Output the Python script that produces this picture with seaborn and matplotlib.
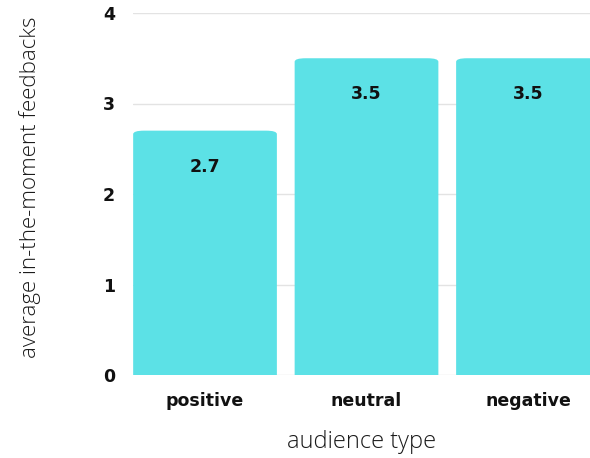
import matplotlib
matplotlib.use("Agg")
import matplotlib.pyplot as plt
import seaborn as sns
import pandas as pd
from matplotlib.patches import FancyBboxPatch

categories = ["positive", "neutral", "negative"]
values = [2.7, 3.5, 3.5]
value_labels = ["2.7", "3.5", "3.5"]
yticks = [0, 1, 2, 3, 4]

df = pd.DataFrame({"audience type": categories, "value": values})

sns.set_theme(style="white")
plt.rcParams['font.family'] = ['DejaVu Sans']

W, H = 590, 458
fig = plt.figure(figsize=(W / 100, H / 100), dpi=100)
ax = fig.add_axes([133 / W, 83 / H, 1 - 133 / W, (375 - 13) / H])

color = "#5CE1E6"
sns.barplot(data=df, x="audience type", y="value", color=color, width=0.89,
            saturation=1, ax=ax, errorbar=None)

ax.set_xlim(-0.446, 2.384)
ax.set_ylim(0, 4)

xpx = (W - 133) / (2.384 + 0.446)
ypx = (375 - 13) / 4.0
aspect = xpx / ypx
radius_px = 11
r = radius_px / xpx

patches = list(ax.patches)
for p in patches:
    x0, w, h = p.get_x(), p.get_width(), p.get_height()
    p.remove()
    fb = FancyBboxPatch((x0, -0.5), w, h + 0.5,
                        boxstyle=f"round,pad=0,rounding_size={r}",
                        mutation_aspect=1 / aspect,
                        facecolor=color, edgecolor="none", zorder=2,
                        clip_on=True)
    ax.add_patch(fb)

for i, (v, lab) in enumerate(zip(values, value_labels)):
    ax.annotate(lab, (i, v), xytext=(0, -26), textcoords="offset points",
                ha="center", va="center", fontsize=12.5, fontweight="bold",
                color="#111111")

ax.set_yticks(yticks)
ax.set_yticklabels([str(t) for t in yticks])
ax.yaxis.grid(True, color="#e3e3e3", linewidth=1)
ax.set_axisbelow(True)
for s in ax.spines.values():
    s.set_visible(False)
ax.tick_params(axis="both", length=0)
ax.tick_params(axis="y", pad=13)
ax.tick_params(axis="x", pad=12)
for t in ax.get_xticklabels() + ax.get_yticklabels():
    t.set_fontweight("bold")
    t.set_fontsize(12.5)
    t.set_color("#111111")

ax.set_xlabel("audience type", fontsize=17, family="Open Sans",
              fontweight="light", color="#1a1a1a")
ax.set_ylabel("average in-the-moment feedbacks", fontsize=16, family="Open Sans",
              fontweight="light", color="#1a1a1a")
ax.yaxis.set_label_coords(-(133 - 30) / (W - 133), (375 - 187) / (375 - 13))
ax.xaxis.set_label_coords((362 - 133) / (W - 133), -(442 - 375) / (375 - 13))
ax.xaxis.label.set_va("center")
ax.yaxis.label.set_va("center")

fig.savefig("out.png", dpi=100)
